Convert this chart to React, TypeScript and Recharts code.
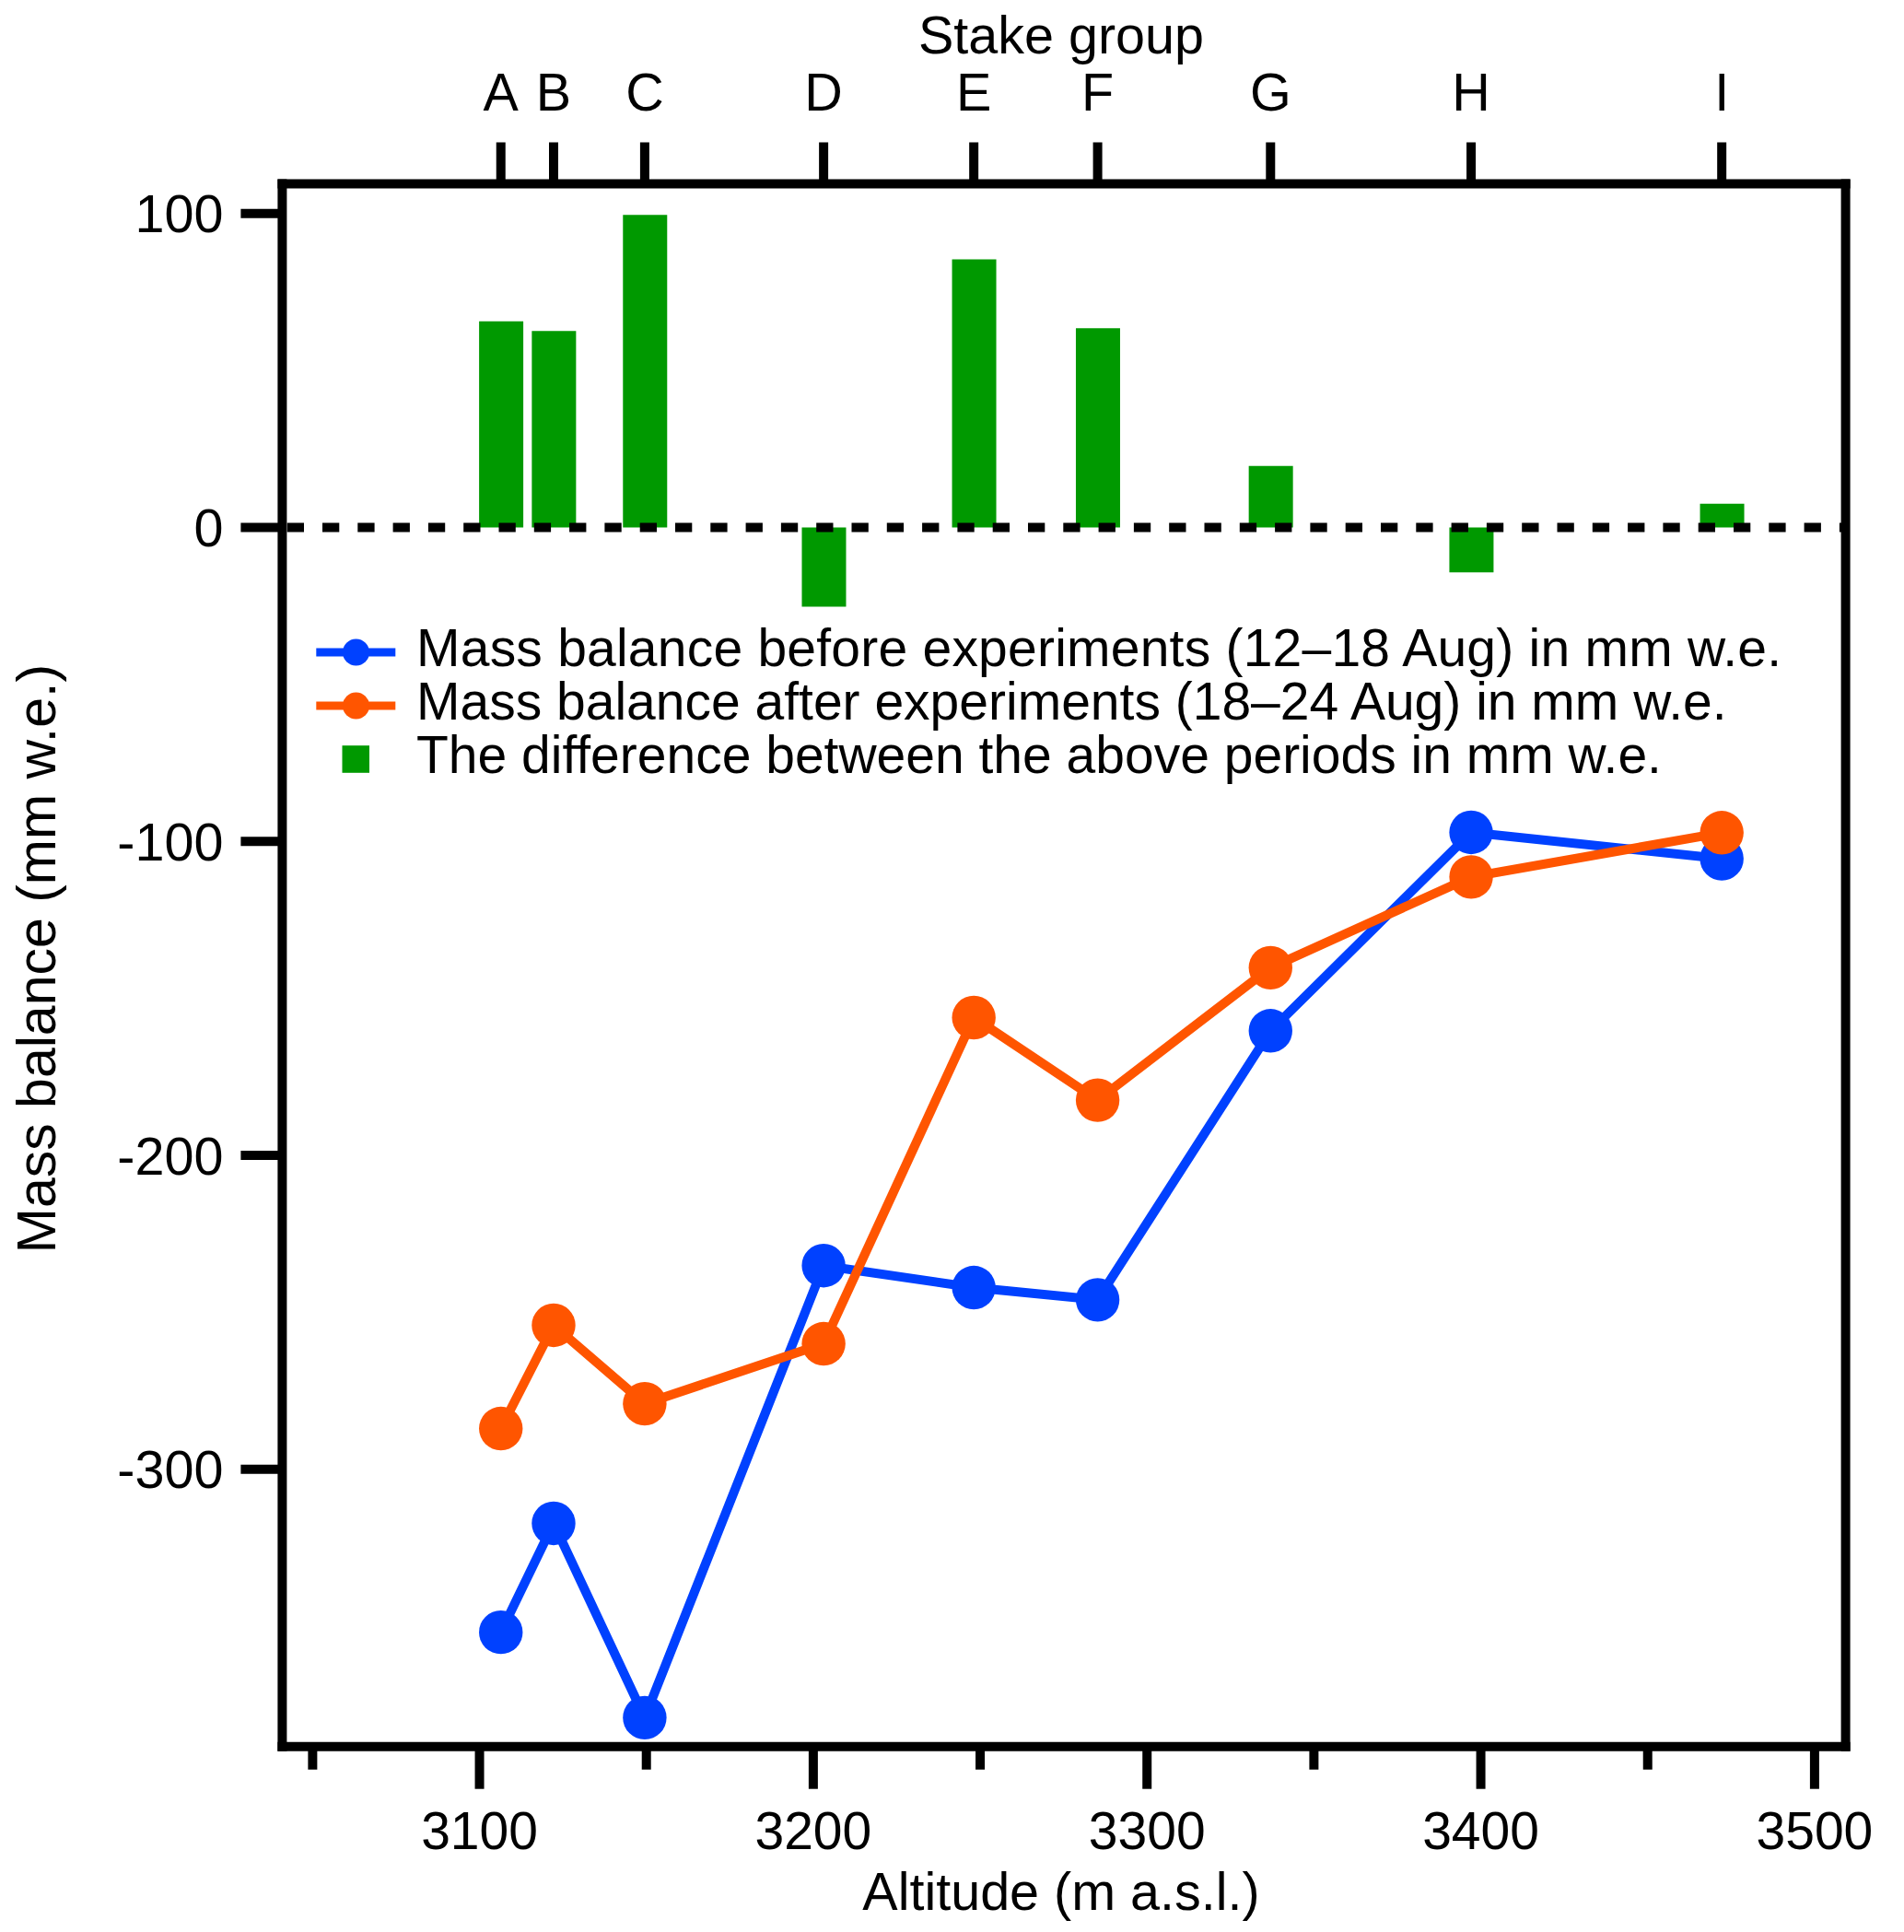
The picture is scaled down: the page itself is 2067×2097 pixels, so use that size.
import React from 'react';
import { ComposedChart, Bar, Line, XAxis, YAxis, ReferenceLine, Legend, Label } from 'recharts';

// ---- data ----
const stakeLabels = ['A', 'B', 'C', 'D', 'E', 'F', 'G', 'H', 'I'];
const altitudes = [3106.4, 3122.2, 3149.5, 3203.1, 3248.1, 3285.2, 3337.0, 3397.1, 3472.2];
const beforeValues = [-351.9, -317.2, -379.1, -235.1, -242.1, -246.0, -160.3, -97.1, -105.5];
const afterValues = [-287.0, -254.1, -279.1, -260.0, -156.1, -182.4, -140.2, -111.3, -97.2];
const diffValues = [65.7, 62.6, 99.6, -25.2, 85.4, 63.5, 19.6, -14.3, 7.6];
const altitudeTicks = [3050, 3100, 3150, 3200, 3250, 3300, 3350, 3400, 3450, 3500];
const massTicks = [-300, -200, -100, 0, 100];
const altitudeDomain = [3040.9, 3509.3];
const massDomain = [-388.3, 109.5];
const seriesNames = {
  before: 'Mass balance before experiments (12\u201318 Aug) in mm w.e.',
  after: 'Mass balance after experiments (18\u201324 Aug) in mm w.e.',
  diff: 'The difference between the above periods in mm w.e.',
};
const axisTitles = {
  x: 'Altitude (m a.s.l.)',
  xTop: 'Stake group',
  y: 'Mass balance (mm w.e.)',
};

const data = altitudes.map((a, i) => ({
  altitude: a,
  stake: stakeLabels[i],
  before: beforeValues[i],
  after: afterValues[i],
  diff: diffValues[i],
}));

// ---- styling ----
const W = 2067;
const H = 2097;
const FONT = '"Liberation Sans", Arial, Helvetica, sans-serif';
const FS = 57.5;
const FS_LEGEND = 57;
const FS_YTITLE = 59;
const BLUE = '#0041ff';
const ORANGE = '#ff5500';
const GREEN = '#009900';
const SW = 10;
const frameLine = { stroke: '#000', strokeWidth: SW, strokeLinecap: 'square' as const };
const tickLineStyle = { stroke: '#000', strokeWidth: SW };

const BottomTick = (props: any) => {
  const { x, y, payload } = props;
  const major = Math.round(payload.value) % 100 === 0;
  return (
    <g>
      <line x1={x} x2={x} y1={y} y2={y + (major ? 46 : 25)} stroke="#000" strokeWidth={SW} />
      {major && (
        <text x={x} y={y + 111.5} textAnchor="middle" fontSize={57} fontFamily={FONT} fill="#000">
          {payload.value}
        </text>
      )}
    </g>
  );
};

const renderLegend = (props: any) => {
  const payload: any[] = props.payload || [];
  const order = ['before', 'after', 'diff'];
  const items = order
    .map((k) => payload.find((p) => p.dataKey === k))
    .filter(Boolean);
  const rowY = [708, 766, 824];
  return (
    <svg width={W} height={H} style={{ display: 'block', overflow: 'visible' }}>
      {items.map((it: any, i: number) => {
        const cy = rowY[i];
        const isBar = it.dataKey === 'diff';
        return (
          <g key={it.dataKey}>
            {isBar ? (
              <rect x={371.5} y={cy - 14.8} width={29.5} height={29.6} fill={it.color} />
            ) : (
              <g>
                <line x1={343.3} x2={429.3} y1={cy} y2={cy} stroke={it.color} strokeWidth={9} />
                <circle cx={386.5} cy={cy} r={14.5} fill={it.color} />
              </g>
            )}
            <text
              x={452}
              y={cy + 14.5}
              fontSize={FS_LEGEND}
              fontFamily={FONT}
              fill="#000"
              textLength={i === 0 ? 1482 : undefined}
              lengthAdjust="spacing"
            >
              {it.value}
            </text>
          </g>
        );
      })}
    </svg>
  );
};

export default function App() {
  return (
    <div style={{ position: 'absolute', left: 0, top: 0, width: W, height: H, background: '#fff' }}>
      <ComposedChart width={W} height={H} data={data} margin={{ top: 0, right: 0, bottom: 0, left: 0 }}>
        <XAxis
          xAxisId="bottom"
          dataKey="altitude"
          type="number"
          domain={altitudeDomain}
          allowDataOverflow
          ticks={altitudeTicks}
          interval={0}
          height={201.3}
          axisLine={frameLine}
          tickLine={false}
          tickSize={0}
          tickMargin={0}
          tick={(p: any) => <BottomTick {...p} />}
        >
          <Label
            content={(p: any) => {
              const vb = p.viewBox;
              return (
                <text x={vb.x + vb.width / 2 - 3} y={2073} textAnchor="middle" fontSize={FS} fontFamily={FONT} fill="#000">
                  {axisTitles.x}
                </text>
              );
            }}
          />
        </XAxis>
        <XAxis
          xAxisId="top"
          orientation="top"
          dataKey="altitude"
          type="number"
          domain={altitudeDomain}
          allowDataOverflow
          ticks={altitudes}
          interval={0}
          height={199.5}
          axisLine={frameLine}
          tickLine={tickLineStyle}
          tickSize={45}
          tickMargin={34.5}
          tickFormatter={(v: number) => stakeLabels[altitudes.indexOf(v)]}
          tick={{ fontSize: FS, fontFamily: FONT, fill: '#000' }}
        >
          <Label
            content={(p: any) => {
              const vb = p.viewBox;
              return (
                <text x={vb.x + vb.width / 2 - 3} y={58} textAnchor="middle" fontSize={FS} fontFamily={FONT} fill="#000">
                  {axisTitles.xTop}
                </text>
              );
            }}
          />
        </XAxis>
        <YAxis
          yAxisId="left"
          type="number"
          domain={massDomain}
          allowDataOverflow
          ticks={massTicks}
          interval={0}
          width={306.4}
          axisLine={frameLine}
          tickLine={tickLineStyle}
          tickSize={45}
          tickMargin={19}
          tick={{ fontSize: FS, fontFamily: FONT, fill: '#000' }}
        >
          <Label
            content={(p: any) => {
              const vb = p.viewBox;
              const cy = vb.y + vb.height / 2 - 7;
              return (
                <text
                  x={60}
                  y={cy}
                  transform={`rotate(-90, 60, ${cy})`}
                  textAnchor="middle"
                  fontSize={FS_YTITLE}
                  fontFamily={FONT}
                  fill="#000"
                >
                  {axisTitles.y}
                </text>
              );
            }}
          />
        </YAxis>
        <YAxis
          yAxisId="right"
          orientation="right"
          type="number"
          domain={massDomain}
          allowDataOverflow
          ticks={massTicks}
          interval={0}
          width={63.4}
          axisLine={frameLine}
          tickLine={tickLineStyle}
          tickSize={45}
          tick={false}
        />
        <Bar
          xAxisId="bottom"
          yAxisId="left"
          dataKey="diff"
          name={seriesNames.diff}
          fill={GREEN}
          barSize={48}
          isAnimationActive={false}
        />
        <ReferenceLine
          xAxisId="bottom"
          yAxisId="left"
          y={0}
          stroke="#000"
          strokeWidth={SW}
          strokeDasharray="18.3 20"
          strokeDashoffset={33}
        />
        <Line
          xAxisId="bottom"
          yAxisId="left"
          dataKey="before"
          name={seriesNames.before}
          type="linear"
          stroke={BLUE}
          strokeWidth={SW}
          dot={{ r: 23.7, fill: BLUE, stroke: 'none', strokeWidth: 0 }}
          activeDot={false}
          isAnimationActive={false}
        />
        <Line
          xAxisId="bottom"
          yAxisId="left"
          dataKey="after"
          name={seriesNames.after}
          type="linear"
          stroke={ORANGE}
          strokeWidth={SW}
          dot={{ r: 23.7, fill: ORANGE, stroke: 'none', strokeWidth: 0 }}
          activeDot={false}
          isAnimationActive={false}
        />
        <Legend
          layout="horizontal"
          verticalAlign="middle"
          align="center"
          content={renderLegend}
          wrapperStyle={{ position: 'absolute', left: 0, top: 0, width: W, height: H, pointerEvents: 'none' }}
        />
      </ComposedChart>
    </div>
  );
}
